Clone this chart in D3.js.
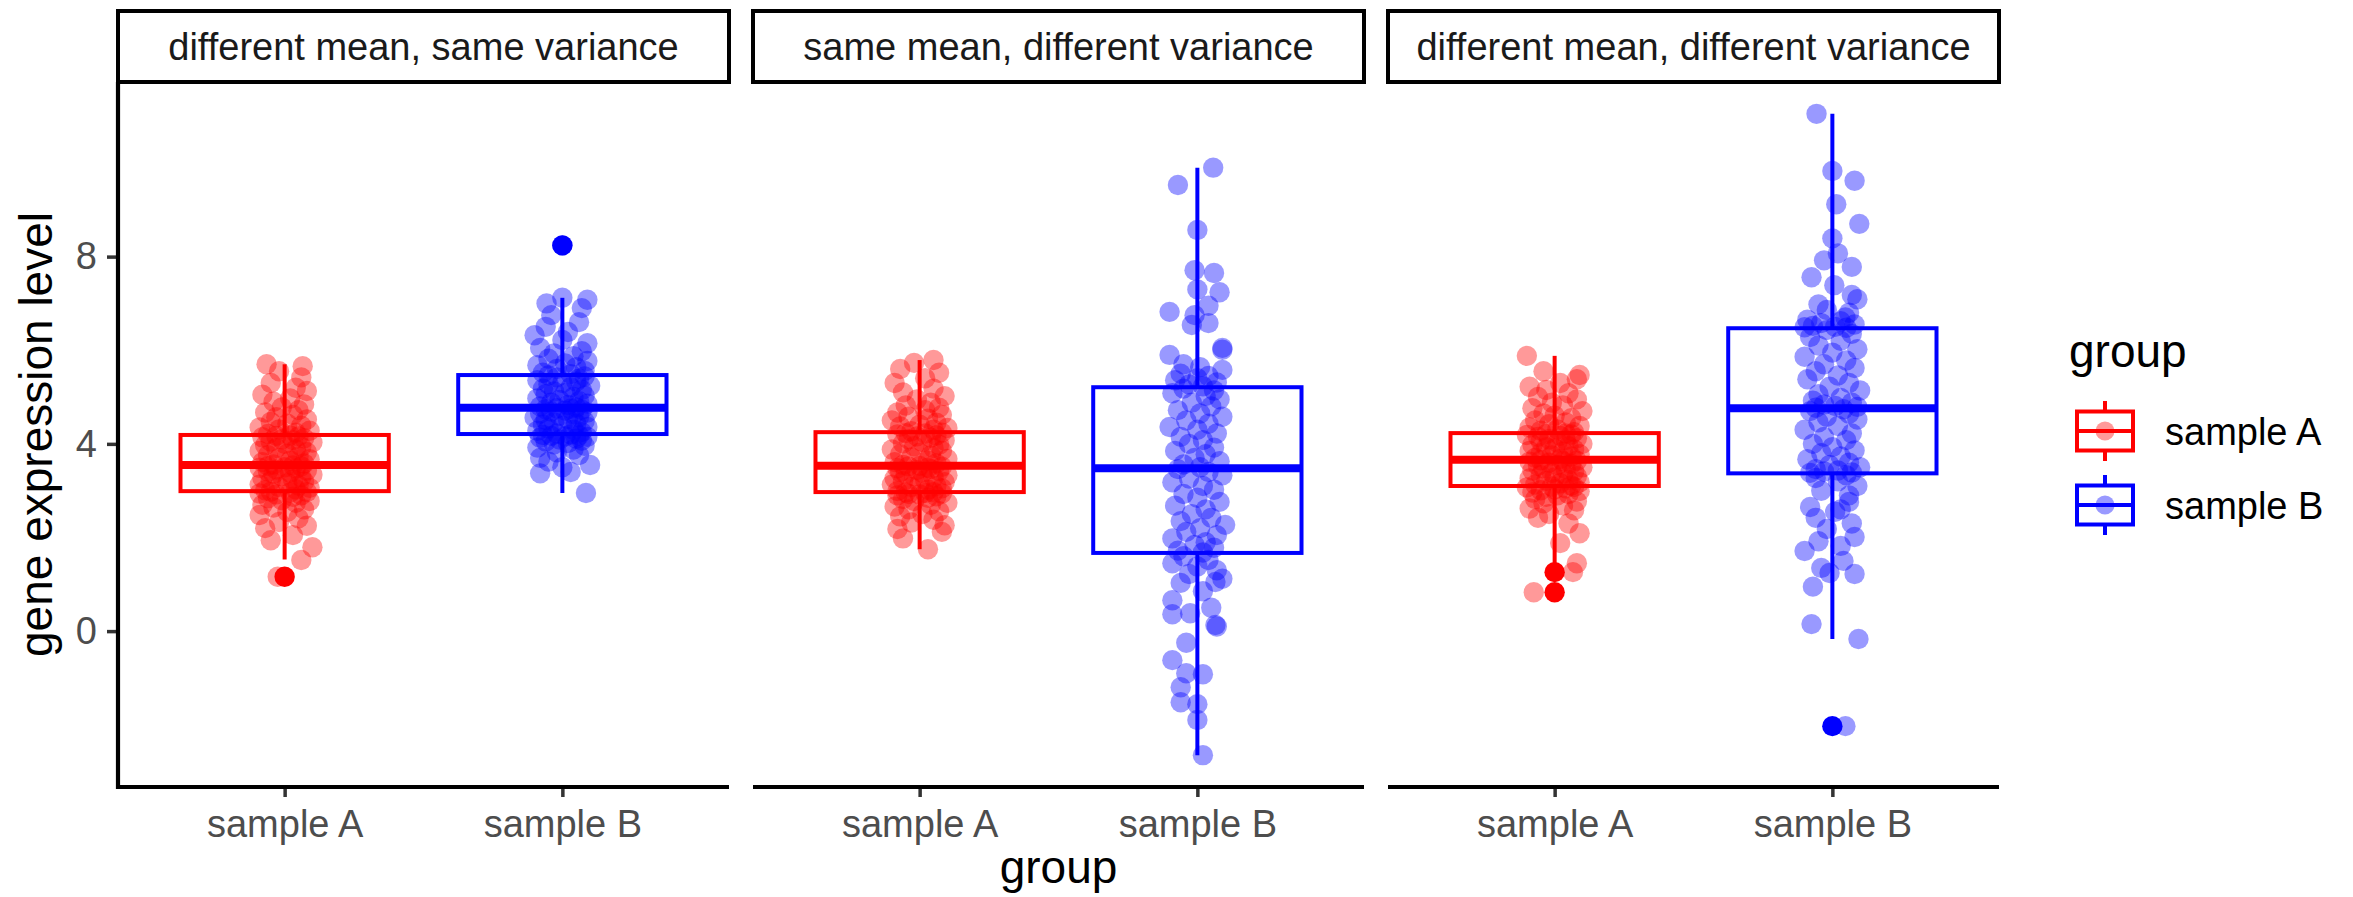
<!DOCTYPE html>
<html>
<head>
<meta charset="utf-8">
<script src="https://cdn.jsdelivr.net/npm/d3@7"></script>
<style>
  body { margin: 0; background: #fff; }
  svg { display: block; font-family: "Liberation Sans", Arial, Helvetica, sans-serif; }
</style>
</head>
<body>
<svg id="chart" width="2353" height="897"></svg>
<script>
// Facets, groups and axis
const facets = ["different mean, same variance", "same mean, different variance", "different mean, different variance"];
const groups = ["sample A", "sample B"];
const groupColors = ["#FF0000", "#0000FF"];
const yTicks = [0, 4, 8];
const yLimits = [-3.33, 11.73];

// Box stats per facet: [whisker low, q1, median, q3, whisker high]
const boxA = [[1.53, 2.99, 3.55, 4.19, 5.70], [1.75, 2.97, 3.53, 4.25, 5.79], [1.45, 3.10, 3.66, 4.23, 5.88]];
const boxB = [[2.95, 4.21, 4.77, 5.47, 7.12], [-2.65, 1.67, 3.48, 5.21, 9.90], [-0.17, 3.37, 4.76, 6.47, 11.05]];
const outliersA = [[1.16], [], [1.26, 0.83]];
const outliersB = [[8.24], [], [-2.03]];

// Jittered points: [offset from category centre (category units), value]
const pts1A = [
  [-0.025,1.16],[0.06,1.52],[0.1,1.79],[-0.05,1.94],[0.03,2.05],[-0.07,2.2],[0.08,2.25],[-0.02,2.33],[0.05,2.41],[-0.09,2.48],
  [0.01,2.55],[0.07,2.6],[-0.04,2.64],[-0.08,2.7],[0.04,2.74],[0.09,2.78],[-0.01,2.8],[-0.06,2.84],[0.03,2.87],[0.06,2.9],
  [-0.03,2.92],[-0.09,2.94],[0.02,2.96],[0.08,2.97],[-0.05,2.98],
  [-0.07,3.01],[0.04,3.03],[0.09,3.06],[-0.02,3.08],[0.05,3.11],[-0.09,3.13],[0.01,3.16],[0.07,3.19],[-0.05,3.21],[0.03,3.24],
  [-0.08,3.27],[0.06,3.29],[-0.01,3.31],[0.1,3.34],[-0.04,3.36],[0.02,3.38],[-0.06,3.41],[0.08,3.43],[-0.03,3.45],[0.04,3.47],
  [-0.09,3.49],[0.0,3.5],[0.06,3.52],[-0.06,3.53],[0.03,3.54],
  [-0.04,3.56],[0.07,3.58],[-0.08,3.61],[0.02,3.64],[0.09,3.67],[-0.02,3.7],[0.05,3.73],[-0.06,3.76],[0.01,3.79],[0.08,3.82],
  [-0.09,3.85],[0.04,3.88],[-0.03,3.91],[0.06,3.94],[-0.07,3.97],[0.0,4.0],[0.1,4.03],[-0.05,4.05],[0.03,4.08],[-0.01,4.1],
  [0.07,4.12],[-0.08,4.14],[0.05,4.16],[-0.03,4.17],[0.02,4.18],
  [-0.06,4.21],[0.04,4.24],[0.09,4.28],[-0.02,4.31],[-0.09,4.35],[0.06,4.39],[0.01,4.43],[-0.05,4.47],[0.08,4.52],[-0.03,4.57],
  [0.03,4.62],[-0.07,4.67],[0.05,4.72],[-0.01,4.78],[0.07,4.84],[-0.04,4.9],[0.02,4.97],[-0.08,5.05],[0.08,5.13],[0.04,5.2],
  [-0.05,5.3],[0.06,5.42],[-0.02,5.55],[-0.065,5.7],[0.065,5.66]
];
const pts1B = [
  [0.085,2.95],[-0.08,3.37],[0.03,3.4],[0.1,3.55],[-0.08,3.7],[0.0,3.5],[-0.05,3.62],[0.06,3.76],[-0.02,3.82],[0.04,3.88],
  [-0.09,3.92],[0.08,3.96],[-0.03,3.99],[0.02,4.02],[-0.06,4.05],[0.07,4.07],[-0.01,4.09],[0.05,4.11],[-0.08,4.13],[0.09,4.15],
  [0.01,4.16],[-0.04,4.17],[0.06,4.18],[-0.07,4.19],[0.03,4.2],
  [-0.02,4.22],[0.07,4.25],[-0.09,4.28],[0.04,4.3],[-0.05,4.33],[0.09,4.36],[0.0,4.38],[-0.07,4.41],[0.05,4.43],[-0.03,4.46],
  [0.08,4.48],[-0.06,4.51],[0.02,4.53],[-0.1,4.56],[0.06,4.58],[-0.01,4.6],[0.04,4.63],[-0.08,4.65],[0.09,4.67],[-0.04,4.69],
  [0.01,4.71],[0.07,4.73],[-0.06,4.74],[0.03,4.75],[-0.02,4.76],
  [0.05,4.78],[-0.08,4.8],[0.02,4.83],[0.09,4.86],[-0.04,4.88],[0.06,4.91],[-0.01,4.94],[-0.09,4.97],[0.04,5.0],[0.08,5.03],
  [-0.06,5.06],[0.01,5.09],[-0.03,5.12],[0.07,5.15],[-0.07,5.18],[0.03,5.21],[0.1,5.24],[-0.05,5.27],[0.0,5.3],[0.05,5.33],
  [-0.09,5.36],[0.06,5.39],[-0.02,5.42],[0.08,5.44],[-0.05,5.46],
  [0.03,5.49],[-0.07,5.52],[0.08,5.56],[-0.02,5.6],[0.05,5.64],[-0.09,5.68],[0.01,5.72],[0.09,5.77],[-0.05,5.82],[0.04,5.87],
  [-0.03,5.93],[0.07,5.98],[-0.08,6.05],[0.09,6.15],[0.0,6.22],[0.02,6.39],[-0.06,6.5],[0.06,6.6],[-0.04,6.75],[0.07,6.9],
  [-0.057,7.0],[0.0,7.12],[0.09,7.08],[-0.1,6.32],[0.0,8.24]
];
const pts2A = [
  [0.03,1.75],[-0.06,1.98],[0.08,2.12],[-0.08,2.18],[0.09,2.26],[-0.03,2.32],[0.05,2.38],[-0.07,2.45],[0.01,2.5],[0.07,2.56],
  [-0.04,2.6],[-0.09,2.66],[0.04,2.7],[0.1,2.74],[-0.02,2.78],[-0.06,2.82],[0.03,2.85],[0.06,2.88],[-0.08,2.9],[0.0,2.92],
  [-0.04,2.93],[0.08,2.94],[0.02,2.95],[-0.05,2.96],[0.05,2.965],
  [-0.08,2.99],[0.03,3.02],[0.08,3.05],[-0.03,3.08],[0.06,3.1],[-0.1,3.13],[0.0,3.15],[0.09,3.18],[-0.06,3.2],[0.02,3.23],
  [-0.09,3.26],[0.05,3.28],[-0.02,3.31],[0.1,3.33],[-0.05,3.36],[0.01,3.38],[-0.07,3.4],[0.07,3.42],[-0.01,3.44],[0.04,3.46],
  [-0.08,3.48],[0.03,3.49],[0.08,3.51],[-0.04,3.52],[0.0,3.53],
  [-0.06,3.55],[0.06,3.58],[-0.09,3.61],[0.03,3.64],[0.1,3.68],[-0.03,3.71],[0.04,3.75],[-0.07,3.78],[0.0,3.81],[0.08,3.85],
  [-0.1,3.88],[0.05,3.91],[-0.02,3.95],[0.07,3.98],[-0.06,4.01],[0.01,4.04],[0.09,4.07],[-0.04,4.1],[0.04,4.13],[-0.01,4.16],
  [0.06,4.18],[-0.08,4.2],[0.02,4.22],[-0.05,4.23],[0.08,4.24],
  [-0.03,4.27],[0.05,4.3],[0.1,4.34],[-0.07,4.37],[0.0,4.41],[0.06,4.45],[-0.1,4.5],[0.03,4.54],[-0.04,4.58],[0.08,4.62],
  [-0.08,4.67],[0.02,4.72],[0.07,4.77],[-0.05,4.82],[0.04,4.88],[-0.01,4.95],[0.09,5.02],[-0.06,5.1],[0.05,5.18],[-0.09,5.3],
  [0.02,5.4],[0.07,5.52],[-0.07,5.6],[-0.02,5.73],[0.05,5.79]
];
const pts2B = [
  [0.057,9.9],[-0.07,9.53],[0.0,8.57],[-0.01,7.71],[0.06,7.65],[0.0,7.3],[0.08,7.24],[0.04,6.95],[-0.1,6.82],[-0.01,6.75],
  [0.04,6.58],[-0.02,6.54],[0.09,6.05],[0.09,6.01],[-0.1,5.9],[-0.05,5.7],[0.01,5.64],[0.09,5.58],[-0.06,5.5],[0.04,5.45],
  [0.0,5.4],[-0.08,5.36],[0.07,5.31],[-0.03,5.27],[0.02,5.23],
  [-0.05,5.18],[0.06,5.14],[-0.09,5.08],[0.03,5.02],[0.08,4.95],[-0.02,4.88],[0.05,4.8],[-0.07,4.72],[0.01,4.65],[0.09,4.58],
  [-0.04,4.5],[0.04,4.43],[-0.1,4.36],[0.0,4.3],[0.07,4.22],[-0.06,4.15],[0.02,4.08],[-0.03,4.0],[0.06,3.92],[-0.08,3.85],
  [0.03,3.78],[-0.01,3.7],[0.08,3.63],[-0.05,3.56],[0.01,3.5],
  [-0.07,3.46],[0.04,3.4],[0.09,3.33],[-0.03,3.26],[-0.09,3.18],[0.02,3.1],[0.06,3.02],[-0.05,2.93],[0.0,2.85],[0.08,2.76],
  [-0.08,2.68],[0.03,2.6],[-0.02,2.5],[0.05,2.42],[-0.06,2.35],[0.1,2.27],[0.01,2.2],[-0.04,2.12],[0.07,2.05],[-0.09,1.98],
  [0.03,1.9],[-0.01,1.84],[0.06,1.78],[-0.07,1.72],[0.02,1.68],
  [-0.05,1.6],[0.04,1.52],[-0.09,1.45],[0.0,1.38],[0.07,1.3],[-0.03,1.22],[0.09,1.12],[0.065,1.05],[-0.06,1.03],[0.02,0.85],
  [-0.09,0.66],[0.05,0.5],[-0.026,0.38],[-0.09,0.36],[0.065,0.13],[0.07,0.1],[-0.04,-0.25],[-0.09,-0.62],[-0.04,-0.9],[0.02,-0.92],
  [-0.06,-1.2],[-0.06,-1.52],[0.0,-1.56],[0.0,-1.9],[0.02,-2.65]
];
const pts3A = [
  [-0.075,0.83],[0.066,1.26],[0.08,1.45],[0.02,1.88],[0.09,2.09],[0.05,2.3],[-0.06,2.42],[-0.02,2.5],[0.07,2.58],[-0.09,2.62],
  [0.03,2.68],[-0.04,2.73],[0.08,2.77],[-0.07,2.82],[-0.03,2.87],[0.01,2.9],[0.05,2.93],[-0.08,2.96],[0.09,2.99],[-0.05,3.01],
  [0.0,3.03],[0.04,3.05],[-0.1,3.07],[0.07,3.08],[-0.01,3.09],
  [0.06,3.11],[-0.07,3.13],[0.02,3.16],[0.09,3.18],[-0.03,3.21],[0.05,3.23],[-0.09,3.26],[0.0,3.28],[0.08,3.31],[-0.05,3.33],
  [0.03,3.36],[-0.01,3.38],[0.07,3.41],[-0.08,3.43],[0.04,3.46],[-0.04,3.48],[0.1,3.5],[-0.06,3.53],[0.01,3.55],[0.06,3.57],
  [-0.02,3.6],[-0.09,3.62],[0.03,3.63],[0.08,3.64],[-0.05,3.65],
  [0.02,3.68],[-0.07,3.7],[0.06,3.73],[-0.01,3.75],[0.09,3.78],[-0.05,3.8],[0.03,3.83],[-0.09,3.85],[0.07,3.88],[0.0,3.9],
  [-0.03,3.93],[0.05,3.95],[-0.08,3.98],[0.1,4.0],[0.01,4.03],[-0.05,4.05],[0.04,4.08],[-0.02,4.1],[0.08,4.12],[-0.06,4.15],
  [0.02,4.17],[-0.1,4.19],[0.06,4.2],[-0.03,4.21],[0.04,4.22],
  [0.07,4.25],[-0.05,4.28],[0.01,4.31],[-0.09,4.35],[0.09,4.38],[-0.02,4.42],[0.04,4.46],[-0.07,4.5],[0.06,4.55],[0.0,4.6],
  [-0.04,4.65],[0.1,4.7],[-0.08,4.76],[0.03,4.82],[-0.01,4.88],[0.08,4.95],[-0.06,5.0],[0.05,5.08],[-0.03,5.15],[-0.09,5.22],
  [0.02,5.3],[0.08,5.38],[0.09,5.47],[-0.04,5.55],[-0.1,5.88]
];
const pts3B = [
  [-0.057,11.05],[0.0,9.83],[0.08,9.62],[0.014,9.12],[0.097,8.7],[0.0,8.39],[0.02,8.07],[-0.03,7.92],[0.07,7.78],[-0.075,7.56],
  [0.007,7.39],[0.07,7.18],[0.09,7.09],[-0.05,6.98],[-0.02,6.86],[0.06,6.8],[0.047,6.7],[-0.09,6.65],[0.03,6.62],[-0.04,6.58],
  [0.08,6.55],[-0.07,6.52],[0.01,6.5],[-0.1,6.49],[0.05,6.48],
  [-0.02,6.43],[0.07,6.35],[-0.08,6.28],[0.03,6.2],[-0.05,6.1],[0.09,6.02],[0.0,5.95],[-0.1,5.86],[0.05,5.78],[-0.03,5.7],
  [0.08,5.62],[-0.06,5.55],[0.02,5.46],[-0.09,5.38],[0.06,5.3],[-0.01,5.22],[0.1,5.14],[-0.05,5.06],[0.03,4.98],[-0.07,4.92],
  [0.07,4.88],[-0.03,4.84],[0.01,4.81],[0.09,4.79],[-0.06,4.77],
  [0.04,4.74],[-0.08,4.7],[0.06,4.64],[-0.02,4.58],[0.09,4.52],[-0.05,4.46],[0.02,4.38],[-0.1,4.3],[0.07,4.22],[-0.03,4.15],
  [0.05,4.08],[-0.07,4.0],[0.0,3.93],[0.08,3.86],[-0.04,3.8],[0.03,3.73],[-0.09,3.67],[0.06,3.6],[-0.01,3.55],[0.1,3.5],
  [-0.06,3.46],[0.02,3.43],[-0.03,3.41],[0.07,3.39],[-0.08,3.38],
  [0.05,3.33],[-0.06,3.27],[0.02,3.2],[0.09,3.1],[-0.04,3.0],[0.06,2.9],[0.06,2.76],[-0.08,2.65],[0.01,2.55],[-0.06,2.42],
  [0.07,2.3],[-0.02,2.18],[0.08,2.01],[-0.05,1.92],[0.03,1.82],[-0.1,1.71],[0.04,1.5],[-0.04,1.35],[-0.01,1.24],[0.08,1.22],
  [-0.07,0.95],[-0.075,0.15],[0.094,-0.17],[0.047,-2.03],[0.03,2.6]
];

class FacetBoxplot {

    constructor(_config, _data) {
        this.config = {
            parentElement: _config.parentElement,
            panelLeft: 118,
            panelTop: 82,
            panelBottom: 787,
            panelWidth: 611,
            panelGap: 24,
            stripTop: 11,
            pointRadius: 10.2
        };
        this.data = _data;
        this.initVis();
    }

    initVis() {
        let vis = this;
        const c = vis.config;

        vis.svg = d3.select(c.parentElement);

        vis.yScale = d3.scaleLinear()
            .domain(yLimits)
            .range([c.panelBottom, c.panelTop]);

        // Y axis title
        vis.svg.append('text')
            .attr('transform', `translate(52, ${(c.panelTop + c.panelBottom) / 2}) rotate(-90)`)
            .attr('text-anchor', 'middle')
            .attr('font-size', 46)
            .attr('fill', '#000')
            .text('gene expression level');

        // X axis title, centred under all panels
        const right = c.panelLeft + 3 * c.panelWidth + 2 * c.panelGap;
        vis.svg.append('text')
            .attr('x', (c.panelLeft + right) / 2)
            .attr('y', 883)
            .attr('text-anchor', 'middle')
            .attr('font-size', 46)
            .attr('fill', '#000')
            .text('group');

        vis.renderVis();
        vis.renderLegend();
    }

    renderVis() {
        let vis = this;
        const c = vis.config;

        vis.data.forEach((facet, i) => {
            const x0 = c.panelLeft + i * (c.panelWidth + c.panelGap);
            const xScale = d3.scalePoint()
                .domain(groups)
                .range([x0, x0 + c.panelWidth])
                .padding(0.6);
            const bw = xScale.step() * 0.75;
            const g = vis.svg.append('g').attr('class', 'panel');

            // Strip
            g.append('rect')
                .attr('x', x0)
                .attr('y', c.stripTop)
                .attr('width', c.panelWidth)
                .attr('height', c.panelTop - c.stripTop)
                .attr('fill', '#fff')
                .attr('stroke', '#000')
                .attr('stroke-width', 4);
            g.append('text')
                .attr('x', x0 + c.panelWidth / 2)
                .attr('y', 60)
                .attr('text-anchor', 'middle')
                .attr('font-size', 38)
                .attr('fill', '#1A1A1A')
                .text(facet.name);

            facet.series.forEach((s, k) => {
                const cx = xScale(groups[k]);
                const col = groupColors[k];
                const [lo, q1, med, q3, hi] = s.box;

                // whiskers
                g.selectAll(null)
                    .data([[q3, hi], [q1, lo]])
                    .join('line')
                    .attr('x1', cx).attr('x2', cx)
                    .attr('y1', d => vis.yScale(d[0]))
                    .attr('y2', d => vis.yScale(d[1]))
                    .attr('stroke', col)
                    .attr('stroke-width', 4);

                // box
                g.append('rect')
                    .attr('x', cx - bw / 2)
                    .attr('y', vis.yScale(q3))
                    .attr('width', bw)
                    .attr('height', vis.yScale(q1) - vis.yScale(q3))
                    .attr('fill', '#fff')
                    .attr('stroke', col)
                    .attr('stroke-width', 4);

                // median
                g.append('line')
                    .attr('x1', cx - bw / 2).attr('x2', cx + bw / 2)
                    .attr('y1', vis.yScale(med)).attr('y2', vis.yScale(med))
                    .attr('stroke', col)
                    .attr('stroke-width', 8);

                // outliers
                g.selectAll(null)
                    .data(s.outliers)
                    .join('circle')
                    .attr('cx', cx)
                    .attr('cy', d => vis.yScale(d))
                    .attr('r', c.pointRadius)
                    .attr('fill', col);
            });

            // jittered points on top
            facet.series.forEach((s, k) => {
                const cx = xScale(groups[k]);
                g.selectAll(null)
                    .data(s.points)
                    .join('circle')
                    .attr('cx', d => cx + d[0] * xScale.step())
                    .attr('cy', d => vis.yScale(d[1]))
                    .attr('r', c.pointRadius)
                    .attr('fill', groupColors[k])
                    .attr('fill-opacity', 0.4);
            });

            // Bottom axis
            const xAxisG = g.append('g')
                .attr('transform', `translate(0,${c.panelBottom})`)
                .call(d3.axisBottom(xScale).tickSize(10).tickPadding(13));
            xAxisG.select('.domain').remove();
            xAxisG.attr('font-family', null).attr('font-size', null);
            xAxisG.selectAll('.tick line').attr('stroke', '#333').attr('stroke-width', 3.5);
            xAxisG.selectAll('.tick text')
                .attr('font-size', 38)
                .attr('fill', '#4D4D4D');
            g.append('line')
                .attr('x1', x0).attr('x2', x0 + c.panelWidth)
                .attr('y1', c.panelBottom).attr('y2', c.panelBottom)
                .attr('stroke', '#000')
                .attr('stroke-width', 4.2);

            // Left axis on the first panel only
            if (i === 0) {
                const yAxisG = g.append('g')
                    .attr('transform', `translate(${x0},0)`)
                    .call(d3.axisLeft(vis.yScale).tickValues(yTicks).tickSize(11).tickPadding(10));
                yAxisG.select('.domain').remove();
                yAxisG.attr('font-family', null).attr('font-size', null);
                yAxisG.selectAll('.tick line').attr('stroke', '#333').attr('stroke-width', 3.5);
                yAxisG.selectAll('.tick text')
                    .attr('font-size', 38)
                    .attr('fill', '#4D4D4D');
                g.append('line')
                    .attr('x1', x0).attr('x2', x0)
                    .attr('y1', c.panelTop).attr('y2', c.panelBottom + 2.1)
                    .attr('stroke', '#000')
                    .attr('stroke-width', 4.2);
            }
        });
    }

    renderLegend() {
        let vis = this;
        const lg = vis.svg.append('g').attr('class', 'legend');
        const keyX = 2105;
        const rows = [431, 505];

        lg.append('text')
            .attr('x', 2069)
            .attr('y', 367)
            .attr('font-size', 46)
            .attr('fill', '#000')
            .text('group');

        groups.forEach((name, k) => {
            const cy = rows[k];
            const col = groupColors[k];
            lg.append('line')
                .attr('x1', keyX).attr('x2', keyX)
                .attr('y1', cy - 30).attr('y2', cy + 30)
                .attr('stroke', col).attr('stroke-width', 4);
            lg.append('rect')
                .attr('x', keyX - 28).attr('y', cy - 19.5)
                .attr('width', 56).attr('height', 39)
                .attr('fill', '#fff')
                .attr('stroke', col).attr('stroke-width', 4);
            lg.append('line')
                .attr('x1', keyX - 28).attr('x2', keyX + 28)
                .attr('y1', cy).attr('y2', cy)
                .attr('stroke', col).attr('stroke-width', 4);
            lg.append('circle')
                .attr('cx', keyX).attr('cy', cy)
                .attr('r', 9.5)
                .attr('fill', col).attr('fill-opacity', 0.4);
            lg.append('text')
                .attr('x', 2165)
                .attr('y', cy + 13.5)
                .attr('font-size', 38)
                .attr('fill', '#000')
                .text(name);
        });
    }
}

const chartData = facets.map((name, i) => ({
    name: name,
    series: [
        { box: boxA[i], outliers: outliersA[i], points: [pts1A, pts2A, pts3A][i] },
        { box: boxB[i], outliers: outliersB[i], points: [pts1B, pts2B, pts3B][i] }
    ]
}));

new FacetBoxplot({ parentElement: '#chart' }, chartData);
</script>
</body>
</html>
